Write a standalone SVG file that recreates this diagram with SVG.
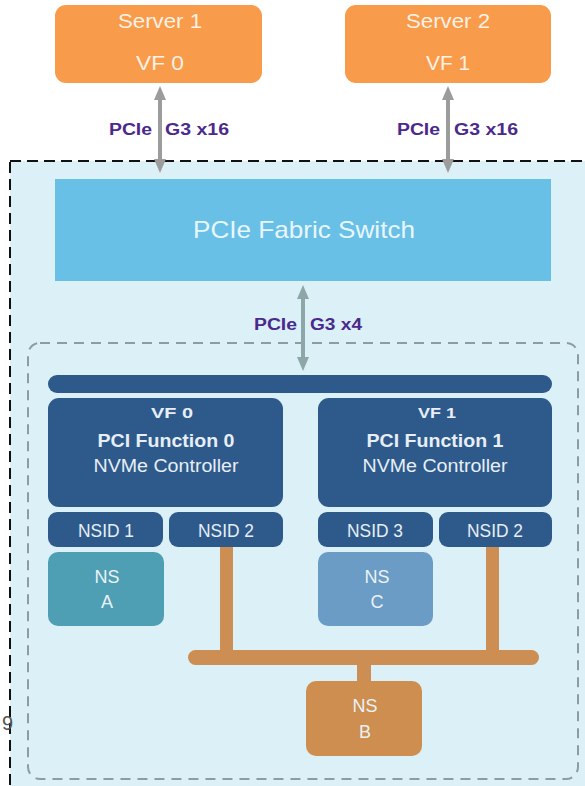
<svg xmlns="http://www.w3.org/2000/svg" width="585" height="786" viewBox="0 0 585 786">
<defs>
<style>
.srv{fill:#F89B4B}
.srvt{fill:#FFF1E4;font-family:"Liberation Sans",Arial,sans-serif;font-size:21px;text-anchor:middle}
.lbl{fill:#4B2A8C;font-family:"Liberation Sans",Arial,sans-serif;font-size:16px;font-weight:bold}
.dk{fill:#2D5A8B}
.dkt{fill:#E8EEF6;font-family:"Liberation Sans",Arial,sans-serif;text-anchor:middle}
.nst{fill:#EAF2F6;font-family:"Liberation Sans",Arial,sans-serif;font-size:18px;text-anchor:middle}
.or{fill:#CC8E52}
.ag{fill:#9C9C9C}
.at{fill:#8FA6A8}
</style>
</defs>
<rect width="585" height="786" fill="#FFFFFF"/>
<g id="outer">
<rect x="10" y="161" width="590" height="640" fill="#DCF0F8" stroke="#111" stroke-width="2" stroke-dasharray="11,6"/>
</g>
<g id="inner">
<rect x="28" y="343" width="550" height="436" rx="12" fill="none" stroke="#8E9CA2" stroke-width="2" stroke-dasharray="10,7"/>
</g>
<g id="server1">
<rect class="srv" x="55" y="5" width="207" height="78" rx="11"/>
<text class="srvt" x="160" y="28" textLength="84" lengthAdjust="spacingAndGlyphs">Server 1</text>
<text class="srvt" x="160" y="70" textLength="48" lengthAdjust="spacingAndGlyphs">VF 0</text>
</g>
<g id="server2">
<rect class="srv" x="345" y="5" width="206" height="78" rx="11"/>
<text class="srvt" x="448" y="28" textLength="84" lengthAdjust="spacingAndGlyphs">Server 2</text>
<text class="srvt" x="448" y="70" textLength="44" lengthAdjust="spacingAndGlyphs">VF 1</text>
</g>
<g id="switch">
<rect x="55" y="179" width="496" height="102" fill="#68C0E6"/>
<text x="304" y="238" fill="#E8F6FC" font-family="'Liberation Sans',Arial,sans-serif" font-size="24" text-anchor="middle" textLength="222" lengthAdjust="spacingAndGlyphs">PCIe Fabric Switch</text>
</g>
<g id="connectors">
<rect class="ag" x="158" y="98" width="4" height="64"/>
<polygon class="ag" points="160,86 154,100 166,100"/>
<polygon class="ag" points="160,173 154,159 166,159"/>
<rect class="ag" x="446" y="98" width="4" height="64"/>
<polygon class="ag" points="448,86 442,100 454,100"/>
<polygon class="ag" points="448,173 442,159 454,159"/>
<rect class="at" x="301" y="297" width="4" height="64"/>
<polygon class="at" points="303,285 297,299 309,299"/>
<polygon class="at" points="303,371 297,357 309,357"/>
<rect class="or" x="220" y="547" width="13" height="110"/>
<rect class="or" x="486" y="547" width="13" height="110"/>
<rect class="or" x="188" y="650" width="351" height="15" rx="7.5"/>
<rect class="or" x="357" y="660" width="14" height="24"/>
</g>
<g id="labels">
<text class="lbl" y="135"><tspan x="109" textLength="43" lengthAdjust="spacingAndGlyphs">PCIe</tspan><tspan x="165" textLength="64" lengthAdjust="spacingAndGlyphs">G3 x16</tspan></text>
<text class="lbl" y="135"><tspan x="397" textLength="43" lengthAdjust="spacingAndGlyphs">PCIe</tspan><tspan x="454" textLength="64" lengthAdjust="spacingAndGlyphs">G3 x16</tspan></text>
<text class="lbl" y="330"><tspan x="254" textLength="43" lengthAdjust="spacingAndGlyphs">PCIe</tspan><tspan x="310" textLength="52" lengthAdjust="spacingAndGlyphs">G3 x4</tspan></text>
</g>
<g id="bus">
<rect class="dk" x="48" y="375" width="504" height="18" rx="9"/>
</g>
<g id="vf0">
<rect class="dk" x="48" y="398" width="235" height="109" rx="11"/>
<text class="dkt" x="172" y="418" font-size="15" font-weight="bold" textLength="42" lengthAdjust="spacingAndGlyphs">VF 0</text>
<text class="dkt" x="166" y="447" font-size="18" font-weight="bold" textLength="137" lengthAdjust="spacingAndGlyphs">PCI Function 0</text>
<text class="dkt" x="166" y="472" font-size="18" textLength="145" lengthAdjust="spacingAndGlyphs">NVMe Controller</text>
</g>
<g id="vf1">
<rect class="dk" x="318" y="398" width="234" height="109" rx="11"/>
<text class="dkt" x="437" y="418" font-size="15" font-weight="bold" textLength="38" lengthAdjust="spacingAndGlyphs">VF 1</text>
<text class="dkt" x="435" y="447" font-size="18" font-weight="bold" textLength="137" lengthAdjust="spacingAndGlyphs">PCI Function 1</text>
<text class="dkt" x="435" y="472" font-size="18" textLength="145" lengthAdjust="spacingAndGlyphs">NVMe Controller</text>
</g>
<g id="nsid1">
<rect class="dk" x="48" y="512" width="115" height="35" rx="9"/>
<text class="dkt" x="106" y="537" font-size="18" textLength="56" lengthAdjust="spacingAndGlyphs">NSID 1</text>
</g>
<g id="nsid2a">
<rect class="dk" x="169" y="512" width="114" height="35" rx="9"/>
<text class="dkt" x="226" y="537" font-size="18" textLength="56" lengthAdjust="spacingAndGlyphs">NSID 2</text>
</g>
<g id="nsid3">
<rect class="dk" x="318" y="512" width="115" height="35" rx="9"/>
<text class="dkt" x="375" y="537" font-size="18" textLength="56" lengthAdjust="spacingAndGlyphs">NSID 3</text>
</g>
<g id="nsid2b">
<rect class="dk" x="439" y="512" width="113" height="35" rx="9"/>
<text class="dkt" x="495" y="537" font-size="18" textLength="56" lengthAdjust="spacingAndGlyphs">NSID 2</text>
</g>
<g id="nsA">
<rect x="48" y="552" width="116" height="74" rx="10" fill="#4E9FB4"/>
<text class="nst" x="107" y="583" textLength="25" lengthAdjust="spacingAndGlyphs">NS</text>
<text class="nst" x="107" y="608">A</text>
</g>
<g id="nsC">
<rect x="318" y="552" width="115" height="74" rx="10" fill="#6A9CC5"/>
<text class="nst" x="377" y="583" textLength="25" lengthAdjust="spacingAndGlyphs">NS</text>
<text class="nst" x="377" y="608">C</text>
</g>
<g id="nsB">
<rect x="306" y="681" width="116" height="75" rx="10" fill="#CD8E50"/>
<text class="nst" x="365" y="712" textLength="25" lengthAdjust="spacingAndGlyphs">NS</text>
<text class="nst" x="365" y="738">B</text>
</g>
<text x="2" y="730" fill="#555" font-family="'Liberation Sans',Arial,sans-serif" font-size="20">9</text>
</svg>
